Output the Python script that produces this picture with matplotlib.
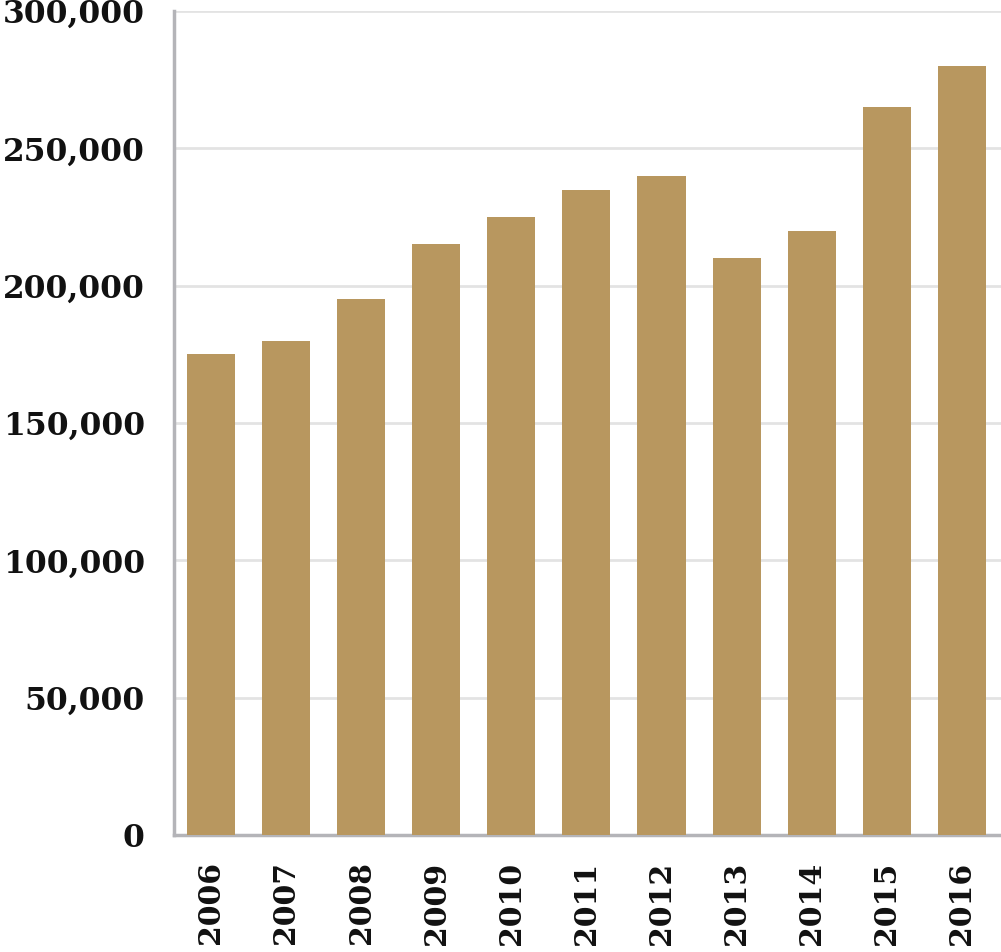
import matplotlib
matplotlib.use("Agg")
import matplotlib.pyplot as plt
from matplotlib.ticker import FuncFormatter

# Data
years = ['2006', '2007', '2008', '2009', '2010', '2011', '2012', '2013', '2014', '2015', '2016']
values = [175000, 180000, 195000, 215000, 225000, 235000, 240000, 210000, 220000, 265000, 280000]

bar_color = '#b8975f'
grid_color = '#e3e3e3'
spine_color = '#b4b4b8'

plt.rcParams['font.family'] = ['DejaVu Serif']
plt.rcParams['font.weight'] = 'bold'

fig = plt.figure(figsize=(10.01, 9.52), dpi=100)
ax = fig.add_axes([0.1738, 0.1229, 0.8262, 0.8655])

x = range(len(years))
ax.bar(x, values, width=0.64, color=bar_color, zorder=3)

ax.set_xlim(-0.49, len(years) - 0.48)
ax.set_ylim(0, 300000)
ax.set_yticks(range(0, 300001, 50000))
ax.yaxis.set_major_formatter(FuncFormatter(lambda v, p: f'{int(v):,}'))
ax.set_xticks(list(x))
ax.set_xticklabels(years, rotation=90)

ax.grid(axis='y', color=grid_color, linewidth=2, zorder=0)
ax.tick_params(axis='both', length=0, colors='#111111')
ax.tick_params(axis='y', pad=21, labelsize=22.5)
ax.tick_params(axis='x', pad=19, labelsize=21.5)
for lbl in ax.get_xticklabels() + ax.get_yticklabels():
    lbl.set_fontweight('bold')

for side in ['top', 'right']:
    ax.spines[side].set_visible(False)
for side in ['left', 'bottom']:
    ax.spines[side].set_color(spine_color)
    ax.spines[side].set_linewidth(2.5)

fig.savefig('out.png', dpi=100)
